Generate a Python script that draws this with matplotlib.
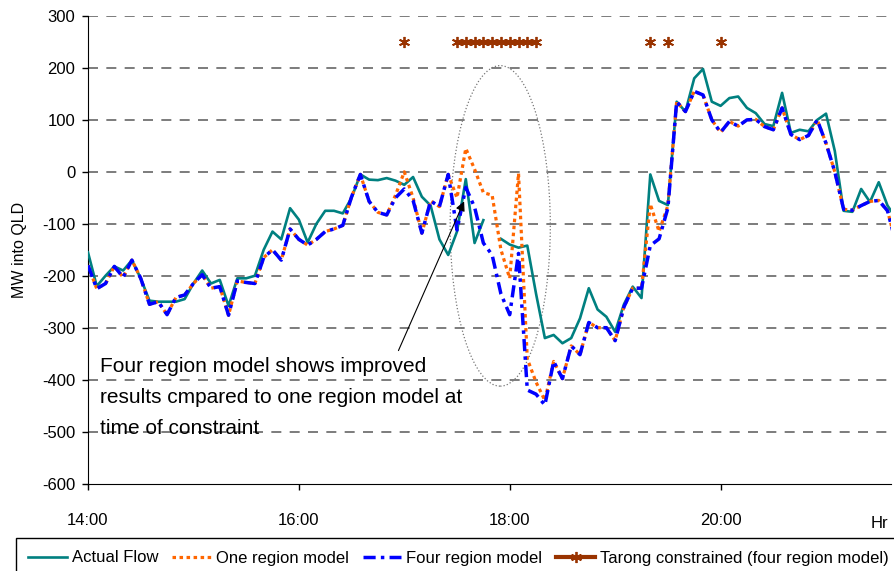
"""
Interconnector flow into QLD: actual vs one and four region models.
"""

import numpy as np
import matplotlib.pyplot as plt
from matplotlib.patches import Ellipse

plt.rcParams['font.family'] = ['Liberation Sans', 'DejaVu Sans']
plt.rcParams['axes.unicode_minus'] = False

nan = np.nan

# 5 minute samples starting at 14:00
start_hour = 14.0
step_min = 5

actual_flow = [-155, -220, -200, -182, -190, -170, -205, -248, -250, -250,   # 14:00
               -250, -245, -215, -190, -215, -208, -258, -205, -205, -200,   # 14:50
               -150, -115, -130, -70, -92, -136, -100, -75, -75, -80,        # 15:40
               -50, -5, -15, -16, -12, -17, -25, -10, -48, -65,              # 16:30
               -130, -160, -115, -14, -137, -93, nan, -129, -140, -146,      # 17:20
               -142, -235, -320, -314, -330, -320, -282, -224, -265, -279,   # 18:10
               -308, -255, -221, -243, -5, -56, -64, 135, 116, 180,          # 19:00
               198, 135, 127, 142, 145, 123, 113, 92, 88, 152,               # 19:50
               75, 81, 78, 100, 112, 40, -75, -77, -33, -58,                 # 20:40
               -20, -65, -90]                                                # 21:30

four_region = [-180, -225, -215, -182, -203, -170, -205, -255, -250, -275,
               -242, -237, -215, -198, -224, -221, -276, -210, -213, -215,
               -165, -150, -170, -110, -130, -141, -130, -115, -110, -103,
               -48, -5, -57, -78, -83, -50, -33, -55, -118, -56,
               -67, -5, -112, -30, -68, -137, -160, -235, -275, -157,
               -420, -428, -449, -365, -398, -335, -352, -290, -300, -300,
               -325, -260, -224, -224, -142, -129, -70, 135, 116, 155,
               148, 100, 76, 97, 88, 100, 101, 87, 81, 123,
               72, 62, 70, 100, 55, 0, -72, -74, -65, -57,
               -55, -75, -140]

one_region = [-180, -225, -215, -182, -203, -170, -205, -255, -250, -275,
              -242, -237, -215, -198, -224, -221, -276, -210, -213, -215,
              -165, -150, -170, -110, -130, -141, -130, -115, -110, -103,
              -48, -5, -57, -78, -83, -45, 0, -50, -118, -56,
              -67, -5, -50, 45, 5, -40, -45, -150, -205, -3,
              -360, -405, -440, -365, -398, -335, -352, -290, -300, -300,
              -325, -260, -224, -224, -62, -115, -65, 135, 116, 155,
              148, 100, 76, 97, 88, 100, 101, 87, 81, 123,
              72, 62, 70, 100, 55, 0, -72, -74, -65, -57,
              -55, -75, -140]

# times when Tarong was constrained (four region model)
tarong_times = ['17:00', '17:30', '17:35', '17:40', '17:45', '17:50', '17:55',
                '18:00', '18:05', '18:10', '18:15', '19:20', '19:30', '20:00']
tarong_level = 250

xtick_hours = [14, 16, 18, 20]
xtick_labels = ['14:00', '16:00', '18:00', '20:00']

# time axis in hours
hours = start_hour + np.arange(len(actual_flow)) * step_min / 60.0

# tarong series on the same grid, gaps where not constrained
tarong_idx = [(int(t[:2]) * 60 + int(t[3:]) - int(start_hour * 60)) // step_min for t in tarong_times]
tarong = np.full(len(hours), np.nan)
tarong[tarong_idx] = tarong_level

fig = plt.figure(figsize=(8.95, 5.71), dpi=100)
ax = fig.add_axes([0.0983, 0.1532, 0.8972, 0.8188])

# grid
for yv in range(-500, 301, 100):
    ax.axhline(yv, color='#666666', lw=1.2, dashes=(6, 5), zorder=1)

ax.plot(hours, actual_flow, color='#008080', lw=1.9, label='Actual Flow', zorder=3)
ax.plot(hours, one_region, color='#FF6600', lw=2.3, linestyle=(0, (1.1, 1.1)),
        label='One region model', zorder=4)
ax.plot(hours, four_region, color='#0000FF', lw=2.5, linestyle=(0, (3.5, 1.5, 1, 1.5)),
        label='Four region model', zorder=5)
ax.plot(hours, tarong, color='#993300', lw=3, marker=(6, 2, 0), markersize=8,
        markeredgewidth=1.3, label='Tarong constrained (four region model)', zorder=6)

# ellipse around constraint period
ax.add_patch(Ellipse((17.91, -104), 0.95, 617, fill=False, ls=':', ec='#777777', lw=0.9, zorder=2))

ax.annotate('', xy=(17.578, -52), xytext=(16.934, -349),
            arrowprops=dict(arrowstyle='-|>', color='black', lw=0.8, mutation_scale=14),
            zorder=7)
ax.text(14.118, -356, 'Four region model shows improved\nresults cmpared to one region model at\ntime of constraint',
        fontsize=15, va='top', ha='left', linespacing=1.8, zorder=7)

ax.set_xlim(14, 21.616)
ax.set_ylim(-600, 300)
ax.set_yticks(range(-600, 301, 100))
ax.set_xticks(xtick_hours)
ax.set_xticklabels(xtick_labels)
ax.tick_params(axis='y', direction='out', length=4, width=1, pad=5, labelsize=12)
ax.tick_params(axis='x', direction='out', length=4, width=1, pad=17, labelsize=12)

for side in ['top', 'right']:
    ax.spines[side].set_visible(False)
ax.spines['left'].set_color('black')
ax.spines['bottom'].set_color('black')

fig.text(20 / 895, 1 - 250 / 571, 'MW into QLD', rotation=90, fontsize=11.5,
         ha='center', va='center')
fig.text(888 / 895, 1 - 523 / 571, 'Hr', fontsize=12, ha='right', va='center')

handles, labels = ax.get_legend_handles_labels()
leg = fig.legend(handles, labels, loc='upper left', bbox_to_anchor=(16 / 895, 1 - 538 / 571),
                 ncol=4, fontsize=12, frameon=True, fancybox=False, edgecolor='black',
                 framealpha=1, handlelength=2.3, handletextpad=0.3, columnspacing=0.85,
                 borderpad=0.75, borderaxespad=0)
leg.get_frame().set_linewidth(1)

plt.savefig('out.png', dpi=100)
